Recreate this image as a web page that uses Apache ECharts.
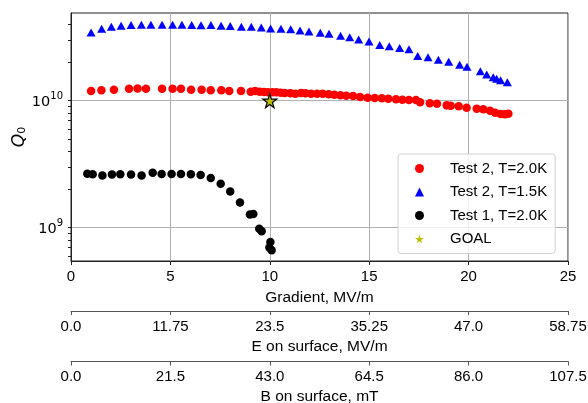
<!DOCTYPE html>
<html>
<head>
<meta charset="utf-8">
<script src="https://cdn.jsdelivr.net/npm/echarts@6/dist/echarts.min.js"></script>
<style>
  html, body { margin: 0; padding: 0; background: #fff; }
  #chart { width: 588px; height: 403px; }
</style>
</head>
<body>
<div id="chart"></div>
<script>
// data (Q values in units of 1e10)
var redX = [1.01, 1.53, 2.16, 2.92, 3.35, 3.77, 4.58, 5.11, 5.53, 6.04, 6.57, 7.03, 7.56, 7.96, 8.55, 9.04, 9.26, 9.49, 9.71, 9.91,
  10.13, 10.33, 10.55, 10.75, 11.04, 11.29, 11.57, 11.79, 12.08, 12.38, 12.66, 12.96, 13.25, 13.55, 13.85, 14.19, 14.54, 14.92, 15.28, 15.64,
  15.96, 16.35, 16.67, 17.0, 17.35, 17.56, 18.05, 18.41, 18.90, 19.10, 19.50, 19.90, 20.41, 20.74, 21.08, 21.34, 21.61, 21.83, 22.0]
var redQ = [1.19, 1.21, 1.22, 1.24, 1.25, 1.24, 1.24, 1.24, 1.24, 1.22, 1.22, 1.21, 1.21, 1.19, 1.19, 1.178, 1.192, 1.178, 1.171, 1.164,
  1.164, 1.164, 1.157, 1.150, 1.143, 1.136, 1.150, 1.143, 1.136, 1.136, 1.136, 1.122, 1.116, 1.102, 1.095, 1.089, 1.069, 1.057, 1.050, 1.044,
  1.038, 1.025, 1.019, 1.013, 1.013, 0.971, 0.953, 0.948, 0.919, 0.914, 0.903, 0.882, 0.866, 0.855, 0.835, 0.805, 0.786, 0.781, 0.790]

var blueX = [1.01, 1.54, 2.03, 2.52, 3.02, 3.54, 4.02, 4.58, 5.11, 5.58, 6.07, 6.54, 7.04, 7.55, 8.01, 8.57, 9.07, 9.57, 10.04, 10.56,
  11.05, 11.52, 11.97, 12.54, 12.98, 13.56, 14.02, 14.47, 14.99, 15.53, 16.01, 16.53, 17.00, 17.44, 17.96, 18.48, 19.00, 19.55, 19.92, 20.59,
  20.91, 21.24, 21.41, 21.61, 21.95]
var blueQ = [3.45, 3.69, 3.83, 3.90, 3.95, 3.97, 3.97, 3.97, 3.97, 3.97, 3.95, 3.92, 3.95, 3.90, 3.87, 3.83, 3.83, 3.78, 3.71, 3.69,
  3.65, 3.58, 3.50, 3.43, 3.37, 3.25, 3.16, 3.04, 2.93, 2.75, 2.68, 2.60, 2.54, 2.25, 2.20, 2.10, 2.03, 1.92, 1.85, 1.71,
  1.61, 1.53, 1.49, 1.45, 1.40]

var blackX = [0.82, 1.09, 1.58, 2.06, 2.48, 3.02, 3.55, 4.11, 4.56, 5.06, 5.53, 6.03, 6.52, 7.03, 7.53, 8.01, 8.50, 9.00, 9.17, 9.47,
  9.59, 10.03, 9.98, 10.09]
var blackQ = [0.266, 0.263, 0.258, 0.262, 0.263, 0.262, 0.258, 0.271, 0.265, 0.265, 0.265, 0.263, 0.260, 0.246, 0.222, 0.193, 0.158, 0.127, 0.128, 0.098,
  0.0936, 0.0772, 0.0697, 0.0664]

var goalX = [10]
var goalQ = [1.0]

var seriesNames = ['Test 2, T=2.0K', 'Test 2, T=1.5K', 'Test 1, T=2.0K', 'GOAL']
var eLabels = ['0.0', '11.75', '23.5', '35.25', '47.0', '58.75']
var bLabels = ['0.0', '21.5', '43.0', '64.5', '86.0', '107.5']
var yMajor = [1e9, 1e10]
var yMinor = [6e8, 7e8, 8e8, 9e8, 1e9, 2e9, 3e9, 4e9, 5e9, 6e9, 7e9, 8e9, 9e9, 1e10, 2e10, 3e10, 4e10]

var starPath = 'path://M50,0 L61,35 L98,35 L68,57 L79,91 L50,70 L21,91 L32,57 L2,35 L39,35 Z'
var fontFam = '"Liberation Sans", Arial, sans-serif'

function pairs (xs, qs) {
  return xs.map(function (x, i) { return [x, qs[i] * 1e10] })
}

var chart = echarts.init(document.getElementById('chart'))

// extra scale shown under the plot (same length as gradient axis)
var secondAxis = function (max, step, labels, name, offset, gap) {
  return {
    type: 'value',
    position: 'bottom',
    offset: offset,
    min: 0,
    max: max,
    interval: step,
    name: name,
    nameLocation: 'middle',
    nameGap: gap,
    nameMoveOverlap: false,
    nameTextStyle: { fontFamily: fontFam, fontSize: 15.5, color: '#000' },
    axisLine: { show: true, onZero: false, lineStyle: { color: '#555', width: 1 } },
    axisTick: { show: true, inside: false, length: 4, lineStyle: { color: '#555' } },
    axisLabel: {
      margin: 8,
      fontFamily: fontFam,
      fontSize: 15,
      color: '#000',
      formatter: function (v) { return labels[Math.round(v / step)] }
    },
    splitLine: { show: false }
  }
}

var option = {
  animation: false,
  backgroundColor: '#fff',
  grid: {
    left: 71,
    top: 13,
    right: 20,
    bottom: 142,
    containLabel: false,
    outerBoundsMode: 'none',
    show: true,
    borderColor: '#222',
    borderWidth: 1,
    backgroundColor: 'transparent'
  },
  legend: {
    orient: 'vertical',
    left: 398,
    top: 154,
    padding: [6, 8, 6, 17],
    itemWidth: 9,
    itemHeight: 9,
    itemGap: 6.5,
    backgroundColor: 'rgba(255,255,255,0.8)',
    borderColor: '#d0d0d0',
    borderWidth: 1,
    borderRadius: 3,
    textStyle: { fontFamily: fontFam, fontSize: 15, color: '#000', lineHeight: 17, padding: [0, 0, 0, 21] },
    data: [
      { name: seriesNames[0], icon: 'circle' },
      { name: seriesNames[1], icon: 'triangle' },
      { name: seriesNames[2], icon: 'circle' },
      { name: seriesNames[3], icon: starPath, itemStyle: { borderWidth: 0 } }
    ]
  },
  xAxis: [
    {
      type: 'value',
      position: 'bottom',
      min: 0,
      max: 25,
      interval: 5,
      name: 'Gradient, MV/m',
      nameLocation: 'middle',
      nameGap: 28.5,
      nameMoveOverlap: false,
      nameTextStyle: { fontFamily: fontFam, fontSize: 15.5, color: '#000' },
      axisLine: { show: true, onZero: false, lineStyle: { color: '#222', width: 1 } },
      axisTick: { show: true, inside: false, length: 4, lineStyle: { color: '#222' } },
      axisLabel: { margin: 8.5, fontFamily: fontFam, fontSize: 15, color: '#000' },
      splitLine: { show: true, lineStyle: { color: '#b0b0b0', width: 1 } }
    },
    secondAxis(58.75, 11.75, eLabels, 'E on surface, MV/m', 50, 28),
    secondAxis(107.5, 21.5, bLabels, 'B on surface, mT', 100.5, 27)
  ],
  yAxis: [
    {
      type: 'log',
      logBase: 10,
      position: 'left',
      min: 5.467e8,
      max: 4.906e10,
      name: '{q|Q}{s|0}',
      nameLocation: 'middle',
      nameRotate: 90,
      nameGap: 43,
      nameMoveOverlap: false,
      nameTextStyle: {
        rich: {
          q: { fontFamily: 'DejaVu Sans', fontStyle: 'italic', fontSize: 17, color: '#000' },
          s: { fontFamily: 'DejaVu Sans', fontSize: 11, color: '#000', verticalAlign: 'bottom', padding: [6, 0, 0, 0] }
        }
      },
      axisLine: { show: true, onZero: false, lineStyle: { color: '#222', width: 1 } },
      axisTick: { show: true, inside: false, length: 3, customValues: yMinor, lineStyle: { color: '#222' } },
      axisLabel: {
        margin: 8,
        customValues: yMajor,
        formatter: function (v) {
          return '{b|10}{e|' + Math.round(Math.log10(v)) + '}'
        },
        rich: {
          b: { fontFamily: 'DejaVu Sans', fontSize: 14.5, color: '#000', lineHeight: 18, verticalAlign: 'bottom' },
          e: { fontFamily: 'DejaVu Sans', fontSize: 10, color: '#000', verticalAlign: 'top', lineHeight: 18 }
        }
      },
      splitLine: { show: false }
    },
    {
      // only carries the horizontal grid lines at the decades
      type: 'log',
      logBase: 10,
      position: 'right',
      min: 5.467e8,
      max: 4.906e10,
      axisLine: { show: false },
      axisTick: { show: false, customValues: yMajor },
      axisLabel: { show: false, customValues: yMajor },
      splitLine: { show: true, lineStyle: { color: '#b0b0b0', width: 1 } }
    }
  ],
  series: [
    {
      name: seriesNames[0],
      type: 'scatter',
      symbol: 'circle',
      symbolSize: 8.5,
      itemStyle: { color: '#ff0000', opacity: 1 },
      data: pairs(redX, redQ)
    },
    {
      name: seriesNames[1],
      type: 'scatter',
      symbol: 'triangle',
      symbolSize: [9, 8],
      itemStyle: { color: '#0000ff', opacity: 1 },
      data: pairs(blueX, blueQ)
    },
    {
      name: seriesNames[2],
      type: 'scatter',
      symbol: 'circle',
      symbolSize: 8.5,
      itemStyle: { color: '#000000', opacity: 1 },
      data: pairs(blackX, blackQ)
    },
    {
      name: seriesNames[3],
      type: 'scatter',
      symbol: starPath,
      symbolSize: 14,
      z: 5,
      itemStyle: { color: '#bfbf00', borderColor: '#000', borderWidth: 1.2, opacity: 1 },
      data: pairs(goalX, goalQ)
    }
  ]
}

chart.setOption(option)
</script>
</body>
</html>
